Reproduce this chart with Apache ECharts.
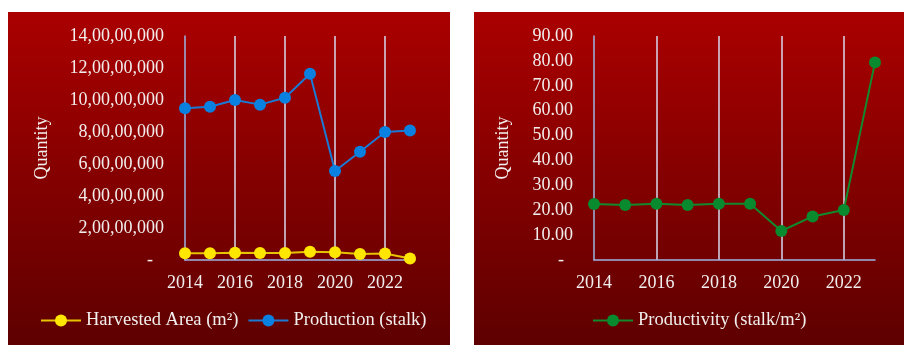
<!DOCTYPE html>
<html>
<head>
<meta charset="utf-8">
<script src="https://cdn.jsdelivr.net/npm/echarts@6/dist/echarts.min.js"></script>
<style>
  html, body { margin: 0; padding: 0; background: #ffffff; }
  #chart { width: 906px; height: 345px; }
</style>
</head>
<body>
<div id="chart"></div>
<script>
// Years on the horizontal axis
const years = [2014, 2015, 2016, 2017, 2018, 2019, 2020, 2021, 2022, 2023];

// Left panel: harvested area (m²) and production (stalk)
const harvestedArea = [4200000, 4200000, 4600000, 4400000, 4400000, 5200000, 4800000, 3750000, 4000000, 1000000];
const production = [94800000, 95800000, 100000000, 97100000, 101400000, 116400000, 55600000, 67700000, 80000000, 81000000];

// Right panel: productivity (stalk/m²)
const productivity = [22.5, 22.1, 22.6, 22.1, 22.6, 22.6, 11.65, 17.5, 20.1, 79.4];

const seriesNames = ['Harvested Area (m²)', 'Production (stalk)', 'Productivity (stalk/m²)'];
const axisTitle = 'Quantity';

const textColor = '#f2eeee';
const font = '"Liberation Serif", "Times New Roman", serif';

// Indian digit grouping: 14,00,00,000
function indianFormat(v) {
  const s = String(Math.round(v));
  if (s.length <= 3) return s;
  const last3 = s.slice(-3);
  let rest = s.slice(0, -3);
  const parts = [];
  while (rest.length > 2) {
    parts.unshift(rest.slice(-2));
    rest = rest.slice(0, -2);
  }
  if (rest.length) parts.unshift(rest);
  return parts.join(',') + ',' + last3;
}

function pairs(values) {
  return years.map((y, i) => [y, values[i]]);
}

const panelGradient = new echarts.graphic.LinearGradient(0, 0, 0, 1, [
  { offset: 0, color: '#aa0000' },
  { offset: 1, color: '#5e0000' }
]);

const xAxisCommon = {
  type: 'value',
  min: 2014,
  interval: 2,
  axisLine: { show: true, lineStyle: { color: '#9db4e2', width: 1.5 } },
  axisTick: { show: false },
  axisLabel: {
    color: textColor, fontFamily: font, fontSize: 18, margin: 14,
    showMaxLabel: false,
    formatter: v => String(v)
  },
  splitLine: {
    show: true, showMinLine: false, showMaxLine: false,
    lineStyle: { color: '#d8d8ec', width: 1.5 }
  }
};

const yAxisCommon = {
  type: 'value',
  min: 0,
  nameLocation: 'middle',
  nameRotate: 90,
  nameTextStyle: { color: textColor, fontFamily: font, fontSize: 18 },
  axisLine: { show: true, lineStyle: { color: '#9db4e2', width: 1.5 } },
  axisTick: { show: false },
  splitLine: { show: false }
};

const legendText = { color: textColor, fontFamily: font, fontSize: 18.5 };

const chart = echarts.init(document.getElementById('chart'), null, { renderer: 'canvas' });

chart.setOption({
  animation: false,
  backgroundColor: '#ffffff',
  graphic: [
    { type: 'rect', z: -10, shape: { x: 8, y: 12, width: 442, height: 333 }, style: { fill: panelGradient } },
    { type: 'rect', z: -10, shape: { x: 474, y: 12, width: 430, height: 333 }, style: { fill: panelGradient } }
  ],
  grid: [
    { left: 185, top: 36, width: 230, height: 224 },
    { left: 594, top: 36, width: 281, height: 224 }
  ],
  xAxis: [
    Object.assign({}, xAxisCommon, { gridIndex: 0, max: 2023.2 }),
    Object.assign({}, xAxisCommon, { gridIndex: 1, max: 2023 })
  ],
  yAxis: [
    Object.assign({}, yAxisCommon, {
      gridIndex: 0, max: 140000000, interval: 20000000,
      name: axisTitle, nameGap: 134,
      axisLabel: {
        color: textColor, fontFamily: font, fontSize: 18, margin: 21,
        formatter: v => (v === 0 ? '{dash|-}' : indianFormat(v)),
        rich: { dash: { color: textColor, fontFamily: font, fontSize: 18, padding: [0, 11, 0, 0] } }
      }
    }),
    Object.assign({}, yAxisCommon, {
      gridIndex: 1, max: 90, interval: 10,
      name: axisTitle, nameGap: 82,
      axisLabel: {
        color: textColor, fontFamily: font, fontSize: 18, margin: 21,
        formatter: v => (v === 0 ? '{dash|-}' : v.toFixed(2)),
        rich: { dash: { color: textColor, fontFamily: font, fontSize: 18, padding: [0, 9, 0, 0] } }
      }
    })
  ],
  legend: [
    {
      data: [seriesNames[0], seriesNames[1]],
      left: 40, top: 311, padding: 0,
      itemWidth: 40, itemHeight: 15, itemGap: 9,
      textStyle: legendText
    },
    {
      data: [seriesNames[2]],
      left: 592, top: 311, padding: 0,
      itemWidth: 40, itemHeight: 15,
      textStyle: legendText
    }
  ],
  series: [
    {
      name: seriesNames[0], type: 'line', xAxisIndex: 0, yAxisIndex: 0,
      data: pairs(harvestedArea),
      symbol: 'circle', symbolSize: 12,
      lineStyle: { color: '#e6c400', width: 2 },
      itemStyle: { color: '#ffe600' }
    },
    {
      name: seriesNames[1], type: 'line', xAxisIndex: 0, yAxisIndex: 0,
      data: pairs(production),
      symbol: 'circle', symbolSize: 12,
      lineStyle: { color: '#1a7ad4', width: 2 },
      itemStyle: { color: '#0a80e0' }
    },
    {
      name: seriesNames[2], type: 'line', xAxisIndex: 1, yAxisIndex: 1,
      data: pairs(productivity),
      symbol: 'circle', symbolSize: 12,
      lineStyle: { color: '#118a2c', width: 2 },
      itemStyle: { color: '#0a8a2e' }
    }
  ]
});
</script>
</body>
</html>
